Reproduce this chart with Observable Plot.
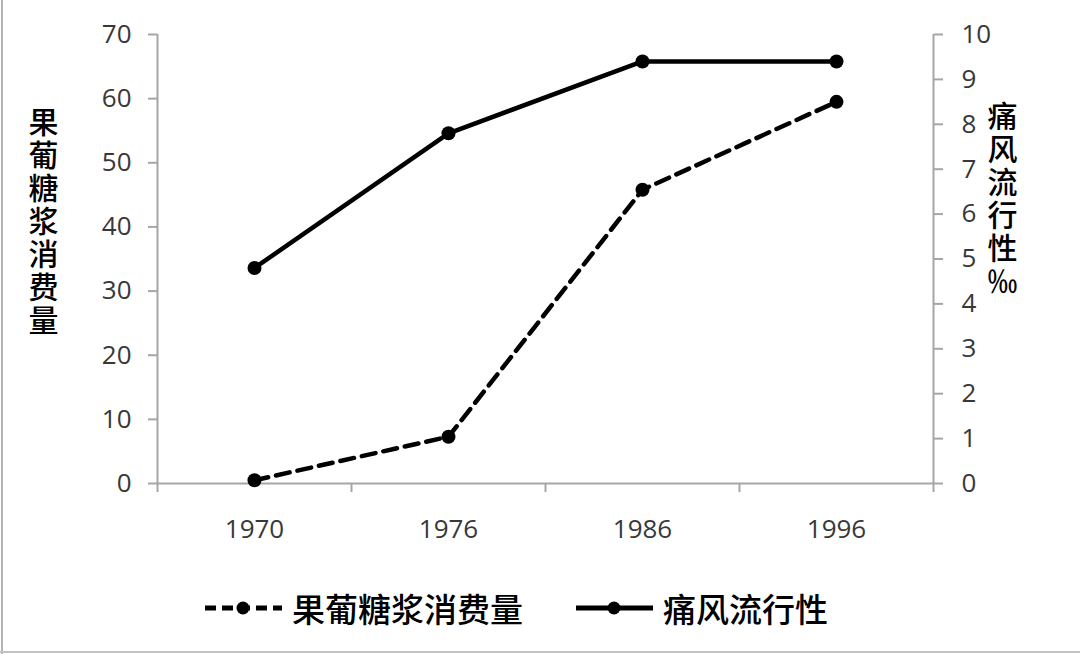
<!DOCTYPE html>
<html>
<head>
<meta charset="utf-8">
<script src="https://cdn.jsdelivr.net/npm/d3@7"></script>
<script src="https://cdn.jsdelivr.net/npm/@observablehq/plot@0.6"></script>
<style>
  html, body { margin: 0; padding: 0; background: #fff; }
  #wrap { position: relative; width: 1080px; height: 654px; overflow: hidden; background: #fff; }
  #wrap::before { content: ""; position: absolute; left: 1px; top: 0; bottom: 0; width: 2px; background: #b4b4b4; }
  #wrap::after { content: ""; position: absolute; left: 0; right: 0; bottom: 1px; height: 2px; background: #c4c4c4; }
  #chart { position: absolute; left: 0; top: 0; }
  #legend { position: absolute; left: 205px; top: 588px; height: 40px; display: flex; align-items: center;
            font-family: "Noto Sans CJK SC", sans-serif; font-size: 33px; font-weight: 500; color: #000; }
  .item { display: flex; align-items: center; }
  .item svg { margin-right: 9px; }
</style>
</head>
<body>
<div id="wrap">
  <div id="chart"></div>
  <div id="legend"></div>
</div>
<script>
// ---- data ----
const years = ["1970", "1976", "1986", "1996"];
const hfcsSeries = [0.5, 7.3, 45.8, 59.5];      // 果葡糖浆消费量 (left axis)
const goutSeries = [4.8, 7.8, 9.4, 9.4];        // 痛风流行性 ‰ (right axis)
const leftTicks = [0, 10, 20, 30, 40, 50, 60, 70];
const rightTicks = [0, 1, 2, 3, 4, 5, 6, 7, 8, 9, 10];
const seriesNames = ["果葡糖浆消费量", "痛风流行性"];
const leftTitle = "果葡糖浆消费量";
const rightTitle = "痛风流行性‰";

const ratio = 70 / 10; // right axis mapped onto left domain

const hfcs = years.map((y, i) => ({i, v: hfcsSeries[i]}));
const gout = years.map((y, i) => ({i, v: goutSeries[i] * ratio}));

const axisColor = "#a6a6a6";
const labelColor = "#383838";
const tickFont = "'Open Sans', sans-serif";

const plot = Plot.plot({
  width: 1080,
  height: 560,
  marginLeft: 157,
  marginRight: 147,
  marginTop: 34,
  marginBottom: 77,
  style: {fontFamily: tickFont, background: "transparent"},
  x: {type: "linear", domain: [-0.5, years.length - 0.5], axis: null},
  y: {domain: [0, 70], axis: null},
  marks: [
    Plot.ruleY([0], {stroke: axisColor, strokeWidth: 2}),
    Plot.ruleX([-0.5], {stroke: axisColor, strokeWidth: 2}),
    Plot.ruleX([years.length - 0.5], {stroke: axisColor, strokeWidth: 2}),
    Plot.axisY({ticks: leftTicks, tickSize: 9, tickPadding: 17, stroke: axisColor, strokeWidth: 2,
                fill: labelColor, fontSize: 26, label: null}),
    Plot.axisY({anchor: "right", ticks: rightTicks.map(t => t * ratio), tickFormat: d => String(Math.round(d / ratio)),
                tickSize: 9, tickPadding: 19, stroke: axisColor, strokeWidth: 2,
                fill: labelColor, fontSize: 26, label: null}),
    Plot.axisX({ticks: d3.range(-0.5, years.length, 1), tickSize: 9, tickFormat: () => "",
                stroke: axisColor, strokeWidth: 2, label: null}),
    Plot.axisX({ticks: d3.range(0, years.length), tickSize: 0, tickPadding: 36, tickFormat: i => years[i],
                fill: labelColor, fontSize: 26, label: null}),
    Plot.line(hfcs, {x: "i", y: "v", stroke: "#000", strokeWidth: 4.5, strokeDasharray: "14,8"}),
    Plot.dot(hfcs, {x: "i", y: "v", r: 7, fill: "#000"}),
    Plot.line(gout, {x: "i", y: "v", stroke: "#000", strokeWidth: 4.5}),
    Plot.dot(gout, {x: "i", y: "v", r: 7, fill: "#000"}),
    Plot.text([leftTitle], {frameAnchor: "left", textAnchor: "middle", text: d => d,
               dx: -114, dy: -47, fontSize: 30, fill: "#000", fontWeight: 500,
               fontFamily: "'Noto Sans CJK SC', sans-serif"}),
    Plot.text([rightTitle], {frameAnchor: "right", textAnchor: "middle", text: d => d,
               dx: 69, dy: -69, fontSize: 30, fill: "#000", fontWeight: 500,
               fontFamily: "'Noto Sans CJK SC', sans-serif"})
  ]
});
// stack the axis titles vertically (upright characters)
d3.select(plot).selectAll("text")
  .filter(function () { return this.textContent === leftTitle || this.textContent === rightTitle; })
  .attr("dy", null)
  .style("writing-mode", "vertical-rl")
  .style("text-orientation", "upright")
  .style("letter-spacing", "3px");
document.getElementById("chart").appendChild(plot);

// ---- legend ----
const legend = d3.select("#legend");
const styles = [{dash: "11,6"}, {dash: null}];
seriesNames.forEach((name, k) => {
  const item = legend.append("div").attr("class", "item").style("margin-right", k === 0 ? "53px" : "0");
  const svg = item.append("svg").attr("width", 78).attr("height", 20);
  const ln = svg.append("line").attr("x1", 0).attr("x2", 77).attr("y1", 10).attr("y2", 10)
    .attr("stroke", "#000").attr("stroke-width", 5);
  if (styles[k].dash) ln.attr("stroke-dasharray", styles[k].dash);
  svg.append("circle").attr("cx", 38).attr("cy", 10).attr("r", 6.5).attr("fill", "#000");
  item.append("span").text(name);
});
</script>
</body>
</html>
